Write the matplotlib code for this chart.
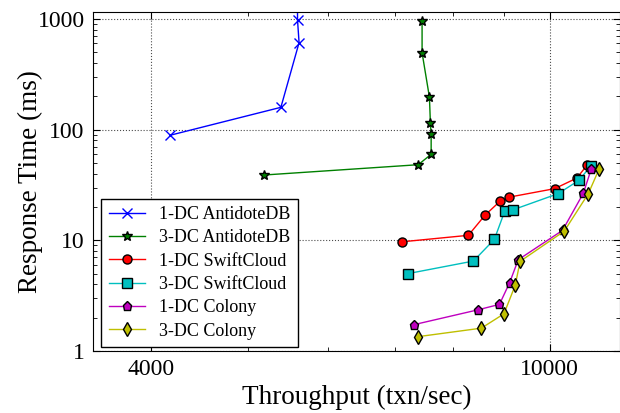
import matplotlib
matplotlib.use("Agg")
from matplotlib import pyplot as plt
from matplotlib.ticker import FixedLocator, FixedFormatter, LogLocator, NullFormatter

plt.rcParams['font.family'] = ['Liberation Serif', 'DejaVu Serif']

# throughput [txn/sec] and response time [ms] per configuration
antidote1_x = [4180, 5390, 5620, 5600, 5600]
antidote1_y = [89, 159, 610, 977, 3000]

antidote3_x = [5185, 7390, 7613, 7613, 7600, 7583, 7456, 7456]
antidote3_y = [38.9, 48.2, 59.8, 91.3, 114, 196, 495, 963]

swift1_x = [7121, 8293, 8613, 8916, 9095, 10113, 10640, 10903]
swift1_y = [9.7, 11.1, 16.8, 22.5, 24.5, 29.3, 36.5, 48.2]

swift3_x = [7213, 8390, 8803, 9015, 9193, 10192, 10690, 10989]
swift3_y = [5.0, 6.5, 10.2, 18.3, 18.9, 26.4, 34.8, 46.9]

colony1_x = [7315, 8483, 8907, 9117, 9300, 10296, 10800, 11000]
colony1_y = [1.73, 2.36, 2.64, 4.14, 6.68, 12.3, 26.6, 44.1]

colony3_x = [7393, 8544, 9000, 9235, 9340, 10337, 10925, 11196]
colony3_y = [1.35, 1.61, 2.17, 3.92, 6.46, 12.1, 26.4, 43.8]

fig = plt.figure(figsize=(6.2, 4.13), dpi=100)
ax = fig.add_axes([0.15, 0.15, 0.85, 0.821])

ax.plot(antidote1_x, antidote1_y, color='b', marker='x', ms=7, mew=1, lw=1,
        label='1-DC AntidoteDB')
ax.plot(antidote3_x, antidote3_y, color='g', marker='*', ms=7, mec='k', lw=1,
        label='3-DC AntidoteDB')
ax.plot(swift1_x, swift1_y, color='r', marker='o', ms=6.5, mec='k', lw=1,
        label='1-DC SwiftCloud')
ax.plot(swift3_x, swift3_y, color=(0, 0.75, 0.75), marker='s', ms=6.5,
        mec='k', lw=1, label='3-DC SwiftCloud')
ax.plot(colony1_x, colony1_y, color=(0.75, 0, 0.75), marker='p', ms=6.5,
        mec='k', lw=1, label='1-DC Colony')
ax.plot(colony3_x, colony3_y, color=(0.75, 0.75, 0), marker='d', ms=7,
        mec='k', lw=1, label='3-DC Colony')

ax.set_xscale('log')
ax.set_yscale('log')
ax.set_xlim(3500, 11750)
ax.set_ylim(1, 1155)

ax.xaxis.set_major_locator(FixedLocator([4000, 10000]))
ax.xaxis.set_major_formatter(FixedFormatter(['4000', '10000']))
ax.xaxis.set_minor_locator(LogLocator(base=10, subs=(5, 6, 7, 8, 9)))
ax.xaxis.set_minor_formatter(NullFormatter())
ax.yaxis.set_major_locator(FixedLocator([1, 10, 100, 1000]))
ax.yaxis.set_major_formatter(FixedFormatter(['1', '10', '100', '1000']))

ax.tick_params(which='both', direction='in', top=True, right=True)
ax.tick_params(which='major', length=5, labelsize=17, pad=6)
ax.tick_params(which='minor', length=3)
ax.grid(True, which='major', linestyle=':', color='k', linewidth=0.8, alpha=0.7)

ax.set_xlabel('Throughput (txn/sec)', fontsize=19.5, labelpad=3)
ax.set_ylabel('Response Time (ms)', fontsize=19.5, labelpad=-4)

leg = ax.legend(loc='lower left', bbox_to_anchor=(0.016, 0.012), fontsize=13,
                fancybox=False, edgecolor='k', framealpha=1,
                labelspacing=0.35, borderaxespad=0)
leg.get_frame().set_linewidth(1)

fig.savefig('out.png', dpi=100)
